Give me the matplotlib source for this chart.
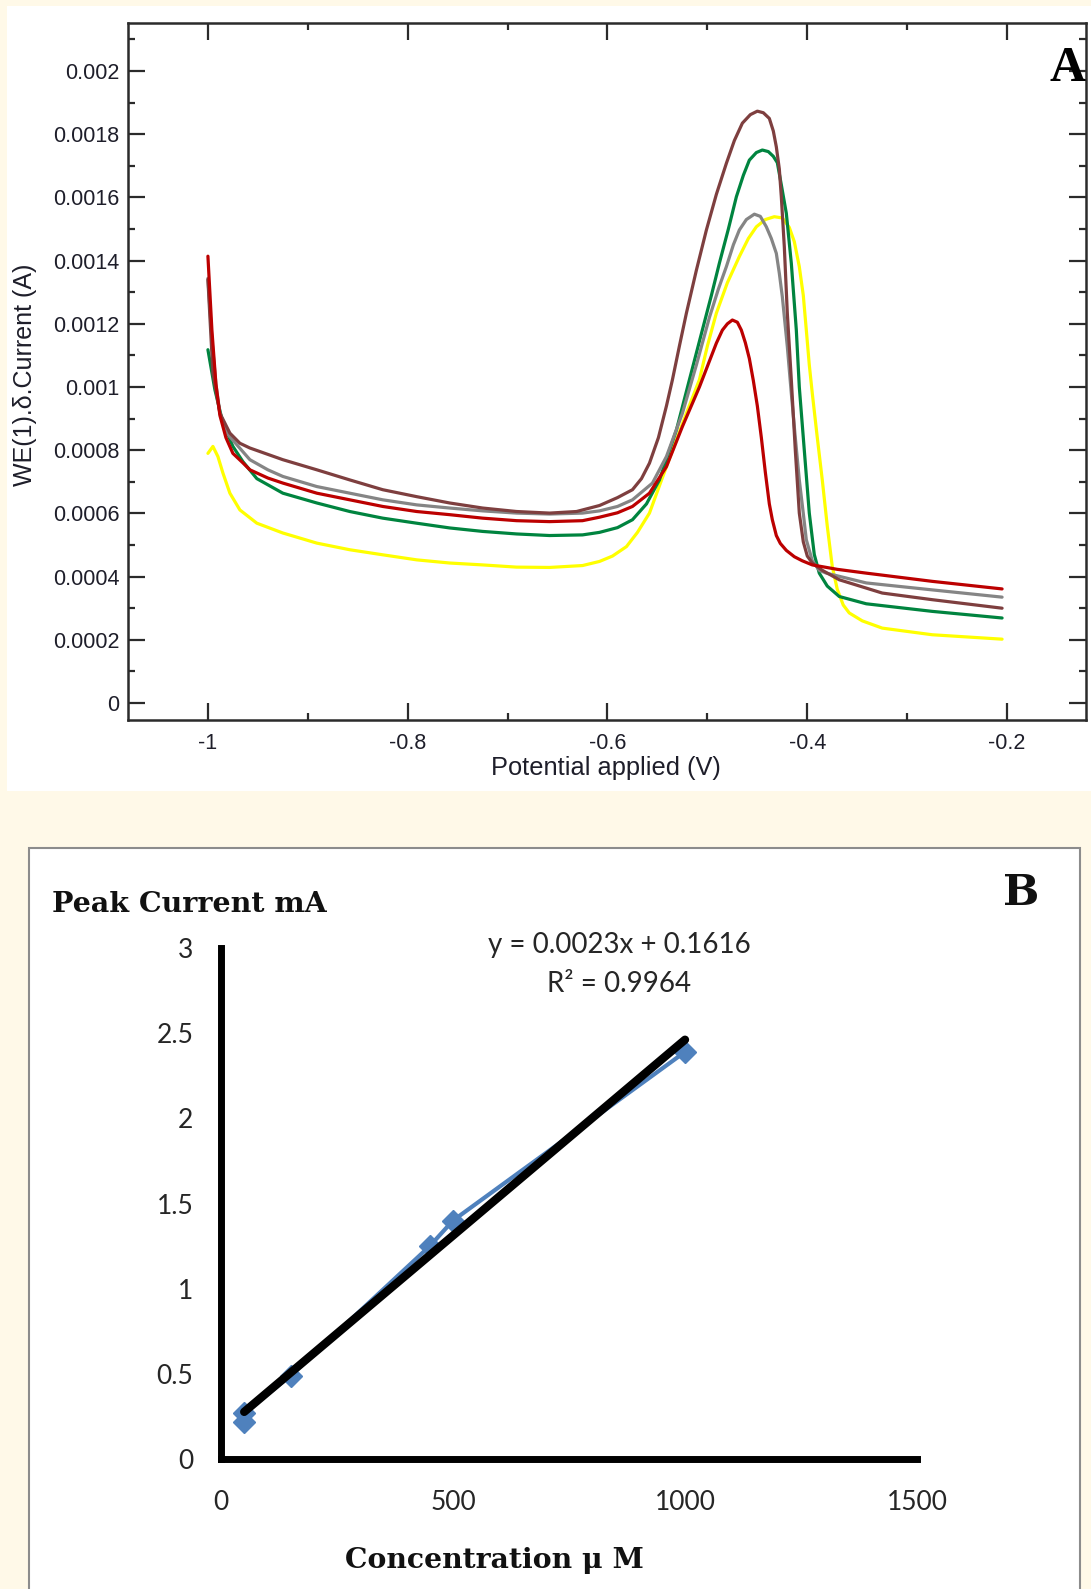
import matplotlib

matplotlib.use("Agg")
import matplotlib.pyplot as plt
from matplotlib.patches import Rectangle
from matplotlib.ticker import MultipleLocator

# ---- panel A: voltammograms (potential V, current A) ----
red_x = [-1.000, -0.996, -0.992, -0.988, -0.982, -0.975, -0.965, -0.958, -0.940, -0.925,
         -0.891, -0.858, -0.825, -0.791, -0.758, -0.725, -0.691, -0.658, -0.625, -0.608,
         -0.590, -0.575, -0.558, -0.541, -0.525, -0.508, -0.491, -0.485, -0.480, -0.475,
         -0.470, -0.466, -0.462, -0.458, -0.454, -0.450, -0.446, -0.442, -0.438, -0.435,
         -0.431, -0.427, -0.421, -0.413, -0.405, -0.395, -0.370, -0.341, -0.275, -0.205]
red_y = [0.001414, 0.00118, 0.00101, 0.00091, 0.00084, 0.00079, 0.00076, 0.000738, 0.000712, 0.000696,
         0.000664, 0.000643, 0.000622, 0.000606, 0.000596, 0.000585, 0.000577, 0.000574, 0.000577, 0.000588,
         0.000602, 0.000622, 0.000664, 0.000748, 0.000875, 0.00100, 0.001139, 0.00118, 0.0012, 0.001212,
         0.001205, 0.00118, 0.00114, 0.00109, 0.00102, 0.00094, 0.00084, 0.00073, 0.00063, 0.00058,
         0.00053, 0.000505, 0.000483, 0.000463, 0.00045, 0.000437, 0.000423, 0.000411, 0.000385, 0.000361]

gray_x = [-1.000, -0.996, -0.992, -0.988, -0.980, -0.971, -0.958, -0.940, -0.925, -0.891,
          -0.858, -0.825, -0.791, -0.758, -0.725, -0.691, -0.658, -0.625, -0.608, -0.590,
          -0.575, -0.555, -0.541, -0.525, -0.511, -0.498, -0.489, -0.481, -0.474, -0.468,
          -0.461, -0.453, -0.447, -0.441, -0.436, -0.431, -0.428, -0.425, -0.420, -0.416,
          -0.412, -0.408, -0.404, -0.401, -0.395, -0.388, -0.381, -0.341, -0.275, -0.205]
gray_y = [0.001344, 0.00115, 0.00101, 0.000917, 0.00085, 0.000817, 0.00077, 0.000738, 0.000717, 0.000685,
          0.000664, 0.000643, 0.000627, 0.000617, 0.000608, 0.000601, 0.000598, 0.000601, 0.000608, 0.000622,
          0.000643, 0.000696, 0.00078, 0.000917, 0.00107, 0.00122, 0.00131, 0.001381, 0.00145, 0.001497,
          0.00153, 0.001547, 0.00154, 0.001507, 0.00147, 0.001423, 0.00136, 0.001286, 0.001128, 0.00098,
          0.00084, 0.000706, 0.0006, 0.000517, 0.00045, 0.00042, 0.000411, 0.00038, 0.000358, 0.000335]

brown_x = [-1.000, -0.995, -0.988, -0.978, -0.968, -0.958, -0.925, -0.891, -0.858, -0.825,
           -0.791, -0.758, -0.725, -0.691, -0.658, -0.631, -0.608, -0.590, -0.575, -0.566,
           -0.558, -0.549, -0.541, -0.535, -0.528, -0.521, -0.511, -0.501, -0.491, -0.481,
           -0.473, -0.465, -0.457, -0.450, -0.444, -0.438, -0.434, -0.431, -0.428, -0.426,
           -0.423, -0.420, -0.416, -0.412, -0.408, -0.404, -0.400, -0.395, -0.385, -0.368,
           -0.325, -0.275, -0.205]
brown_y = [0.00134, 0.001044, 0.000917, 0.000854, 0.000822, 0.000807, 0.00077, 0.000738, 0.000706, 0.000675,
           0.000653, 0.000633, 0.000617, 0.000606, 0.000601, 0.000606, 0.000625, 0.00065, 0.000675, 0.00071,
           0.000759, 0.00084, 0.00094, 0.001023, 0.00113, 0.001234, 0.00137, 0.001497, 0.00161, 0.001708,
           0.00178, 0.001835, 0.001862, 0.001873, 0.001868, 0.00185, 0.00181, 0.00176, 0.00169, 0.001602,
           0.001444, 0.001234, 0.001023, 0.0008, 0.000601, 0.00051, 0.000465, 0.000443, 0.00042, 0.00039,
           0.000348, 0.000327, 0.0003]

green_x = [-1.000, -0.993, -0.985, -0.975, -0.965, -0.951, -0.925, -0.891, -0.858, -0.825,
           -0.791, -0.758, -0.725, -0.691, -0.658, -0.625, -0.608, -0.590, -0.575, -0.561,
           -0.548, -0.531, -0.518, -0.505, -0.496, -0.488, -0.479, -0.471, -0.464, -0.458,
           -0.451, -0.445, -0.439, -0.434, -0.430, -0.426, -0.421, -0.416, -0.411, -0.408,
           -0.403, -0.398, -0.393, -0.388, -0.380, -0.368, -0.341, -0.275, -0.205]
green_y = [0.001118, 0.000991, 0.000886, 0.000812, 0.000764, 0.00071, 0.000664, 0.000633, 0.000606, 0.000585,
           0.000569, 0.000554, 0.000543, 0.000535, 0.00053, 0.000532, 0.00054, 0.000555, 0.00058, 0.00063,
           0.000706, 0.000864, 0.001023, 0.001181, 0.00129, 0.001392, 0.0015, 0.001602, 0.00167, 0.001718,
           0.001742, 0.00175, 0.001745, 0.00173, 0.00171, 0.00164, 0.00155, 0.001392, 0.001181, 0.00100,
           0.0008, 0.000601, 0.00047, 0.000411, 0.00037, 0.000337, 0.000314, 0.00029, 0.000269]

yellow_x = [-1.000, -0.995, -0.990, -0.985, -0.978, -0.968, -0.951, -0.925, -0.891, -0.858,
            -0.825, -0.791, -0.758, -0.725, -0.691, -0.658, -0.625, -0.608, -0.595, -0.581,
            -0.570, -0.558, -0.541, -0.521, -0.508, -0.500, -0.491, -0.480, -0.468, -0.459,
            -0.451, -0.442, -0.433, -0.425, -0.418, -0.413, -0.408, -0.404, -0.401, -0.398,
            -0.395, -0.390, -0.385, -0.380, -0.375, -0.370, -0.364, -0.358, -0.345, -0.325,
            -0.275, -0.205]
yellow_y = [0.00079, 0.000812, 0.00078, 0.000728, 0.000664, 0.000611, 0.000569, 0.000538, 0.000506, 0.000485,
            0.000469, 0.000453, 0.000443, 0.000437, 0.00043, 0.000429, 0.000435, 0.000448, 0.000465, 0.000495,
            0.00054, 0.000601, 0.000748, 0.000917, 0.001023, 0.00113, 0.001234, 0.00133, 0.001413, 0.00147,
            0.001507, 0.00153, 0.001539, 0.001535, 0.001505, 0.00146, 0.001381, 0.00129, 0.001181, 0.00107,
            0.00098, 0.00084, 0.000706, 0.00056, 0.000432, 0.00036, 0.00031, 0.000285, 0.00026, 0.000237,
            0.000216, 0.000202]

a_xticks = [-1.0, -0.8, -0.6, -0.4, -0.2]
a_xticklabels = ["-1", "-0.8", "-0.6", "-0.4", "-0.2"]
a_yticks = [0, 0.0002, 0.0004, 0.0006, 0.0008, 0.001, 0.0012, 0.0014, 0.0016, 0.0018, 0.002]
a_yticklabels = ["0", "0.0002", "0.0004", "0.0006", "0.0008", "0.001",
                 "0.0012", "0.0014", "0.0016", "0.0018", "0.002"]

# ---- panel B: calibration ----
conc = [50, 50, 150, 450, 500, 1000]
peak_current = [0.22, 0.27, 0.49, 1.25, 1.40, 2.39]
fit_slope = 0.0023
fit_intercept = 0.1616
b_xticks = [0, 500, 1000, 1500]
b_xticklabels = ["0", "500", "1000", "1500"]
b_yticks = [0, 0.5, 1, 1.5, 2, 2.5, 3]
b_yticklabels = ["0", "0.5", "1", "1.5", "2", "2.5", "3"]

W, H = 1091, 1589
fig = plt.figure(figsize=(W / 100, H / 100), dpi=100)
fig.patch.set_facecolor("#FFF9E8")

# white panel backgrounds
fig.add_artist(Rectangle((7 / W, 1 - 791 / H), 1084 / W, 785 / H, transform=fig.transFigure,
                         facecolor="white", edgecolor="none", zorder=0))
fig.add_artist(Rectangle((29 / W, -0.01), 1051 / W, 1 - 848 / H + 0.01, transform=fig.transFigure,
                         facecolor="white", edgecolor="#8c8c8c", linewidth=1.5, zorder=0))

# ---------------- panel A ----------------
sans = "Liberation Sans"
ink = "#2b2b2b"
ax_a = fig.add_axes([128 / W, 1 - 720 / H, 958 / W, 697 / H])
ax_a.set_facecolor("white")
curves = [
    (yellow_x, yellow_y, "#FFFF00"),
    (green_x, green_y, "#00843F"),
    (gray_x, gray_y, "#858585"),
    (brown_x, brown_y, "#7E3F3F"),
    (red_x, red_y, "#BC0000"),
]
for xs, ys, col in curves:
    ax_a.plot(xs, ys, color=col, linewidth=2.3, solid_capstyle="round", solid_joinstyle="round")

ax_a.set_xlim(-1.08, -0.121)
ax_a.set_ylim(-0.0000538, 0.002152)
ax_a.set_xticks(a_xticks, a_xticklabels)
ax_a.set_yticks(a_yticks, a_yticklabels)
ax_a.xaxis.set_minor_locator(MultipleLocator(0.1))
ax_a.yaxis.set_minor_locator(MultipleLocator(0.0001))
ax_a.tick_params(which="both", direction="in", top=True, right=True, color=ink, width=1.6)
ax_a.tick_params(which="major", length=12, labelsize=15.5, labelcolor="#1e1e2a")
ax_a.tick_params(axis="x", which="major", pad=9)
ax_a.tick_params(axis="y", which="major", pad=6)
ax_a.tick_params(which="minor", length=5)
for lab in ax_a.get_xticklabels() + ax_a.get_yticklabels():
    lab.set_fontfamily(sans)
for sp in ax_a.spines.values():
    sp.set_linewidth(1.8)
    sp.set_color(ink)

fig.text(606 / W, 1 - 768 / H, "Potential applied (V)", ha="center", va="center",
         fontsize=18.3, family=sans, color="#1e1e2a")
fig.text(25 / W, 1 - 375 / H, "WE(1).δ.Current (A)", ha="center", va="center", rotation=90,
         fontsize=18, family=sans, color="#1e1e2a")
fig.text(1068 / W, 1 - 81 / H, "A", ha="center", va="baseline", fontsize=36,
         family="Liberation Serif", weight="bold", color="black")

# ---------------- panel B ----------------
ax_b = fig.add_axes([221 / W, 1 - 1459 / H, 696 / W, 511 / H])
ax_b.set_facecolor("none")
ax_b.plot(conc, peak_current, color="#4F81BD", linewidth=3, marker="D", markersize=11,
          markeredgecolor="#4F81BD", markerfacecolor="#4F81BD", zorder=3)
fit_x = [min(conc), max(conc)]
fit_y = [fit_slope * v + fit_intercept for v in fit_x]
ax_b.plot(fit_x, fit_y, color="black", linewidth=6, solid_capstyle="round", zorder=4)

ax_b.set_xlim(0, 1500)
ax_b.set_ylim(0, 3)
ax_b.set_xticks(b_xticks, b_xticklabels)
ax_b.set_yticks(b_yticks, b_yticklabels)
ax_b.tick_params(length=0, labelsize=19, labelcolor="#262626")
ax_b.tick_params(axis="y", pad=20)
ax_b.tick_params(axis="x", pad=22)
for lab in ax_b.get_xticklabels() + ax_b.get_yticklabels():
    lab.set_fontfamily("Lato")
for side in ("top", "right"):
    ax_b.spines[side].set_visible(False)
for side in ("left", "bottom"):
    ax_b.spines[side].set_linewidth(5)
    ax_b.spines[side].set_color("black")
    ax_b.spines[side].set_capstyle("projecting")

serif_b = "DejaVu Serif"
fig.text(52 / W, 1 - 912 / H, "Peak Current mA", ha="left", va="baseline", fontsize=20.5,
         family=serif_b, weight="bold", color="#111111")
fig.text(494 / W, 1 - 1568 / H, "Concentration μ M", ha="center", va="baseline", fontsize=20.3,
         family=serif_b, weight="bold", color="#111111")
fig.text(1021 / W, 1 - 905 / H, "B", ha="center", va="baseline", fontsize=31,
         family=serif_b, weight="bold", color="#111111")
fig.text(619 / W, 1 - 953 / H, "y = 0.0023x + 0.1616", ha="center", va="baseline", fontsize=20,
         family="Lato", color="#262626")
fig.text(619 / W, 1 - 991.7 / H, "R² = 0.9964", ha="center", va="baseline", fontsize=20,
         family="Lato", color="#262626")

fig.savefig("out.png", dpi=100, facecolor=fig.get_facecolor())
plt.close(fig)
